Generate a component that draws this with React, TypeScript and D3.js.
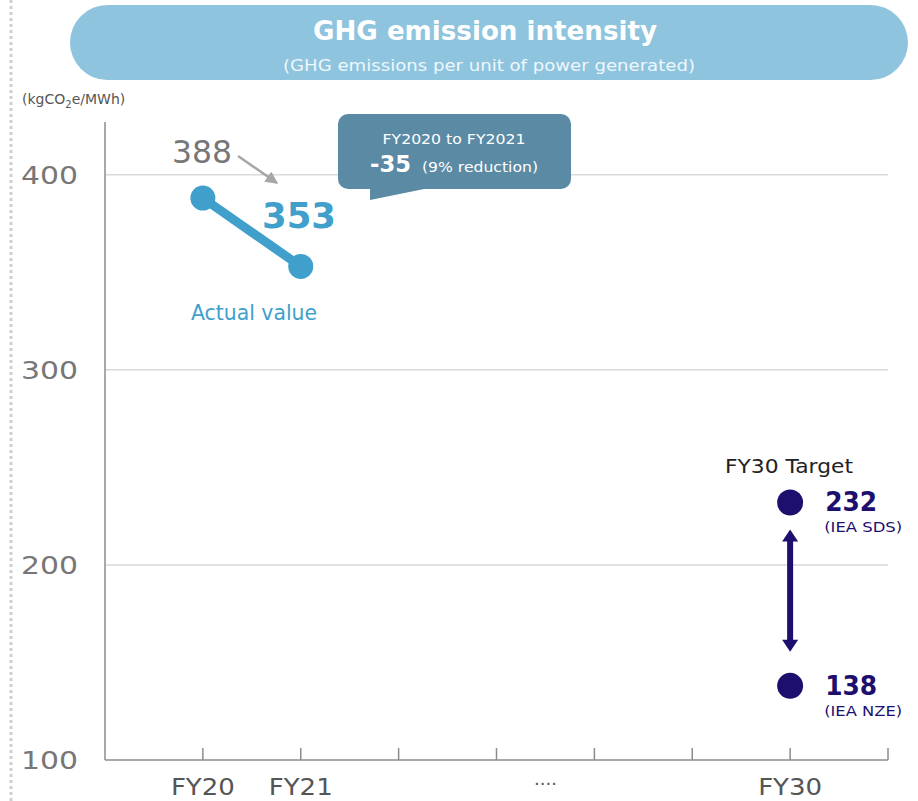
import React from "react";
import * as d3 from "d3";

const slots = ["s0", "FY20", "FY21", "s3", "s4", "s5", "s6", "FY30", "s8"];
const xLabels = ["FY20", "FY21", "FY30"];
const gapLabel = "····";
const actualYears = ["FY20", "FY21"];
const actualValues = [388, 353];
const targetYear = "FY30";
const targetValues = [232, 138];
const targetNotes = ["(IEA SDS)", "(IEA NZE)"];
const yTicks = [100, 200, 300, 400];
const changeValue = -35;
const changePct = "9% reduction";

const W = 918;
const H = 801;
const FONT = "'DejaVu Sans', Verdana, sans-serif";
const BLUE = "#409fcb";
const NAVY = "#1c0f6e";
const CALLOUT = "#5a8aa4";
const PILL = "#8fc4df";

export default function App() {
  const x = d3.scalePoint<string>().domain(slots).range([105, 888]).padding(0);
  const y = d3.scaleLinear().domain([100, 427]).range([760, 122]);
  const line = d3
    .line<number>()
    .x((_, i) => x(actualYears[i]) as number)
    .y((d) => y(d));
  const step = x.step();
  const gapX = (x("s4") as number) + step / 2;
  const tx = x(targetYear) as number;
  const yTop = y(targetValues[0]);
  const yBot = y(targetValues[1]);
  const a1 = yTop + 27;
  const a2 = yBot - 34;

  return (
    <svg width={W} height={H} style={{ position: "absolute", left: 0, top: 0, background: "#fff" }} fontFamily={FONT}>
      <defs>
        <marker id="garrow" viewBox="0 0 10 10" refX="9" refY="5" markerWidth="5" markerHeight="5" orient="auto">
          <path d="M0,0 L10,5 L0,10 z" fill="#a6a6a6" />
        </marker>
      </defs>
      {/* left dotted border */}
      <line x1={11} y1={0} x2={11} y2={H} stroke="#cfcfcf" strokeWidth={3} strokeDasharray="3 3" />

      {/* title pill */}
      <rect x={70} y={5} width={838} height={75} rx={37.5} fill={PILL} />
      <text x={485} y={40} textAnchor="middle" fill="#fff" fontWeight="bold" fontSize={27} textLength={344} lengthAdjust="spacingAndGlyphs">
        GHG emission intensity
      </text>
      <text x={489} y={71} textAnchor="middle" fill="#eef7fc" fontSize={16} textLength={412} lengthAdjust="spacingAndGlyphs">
        (GHG emissions per unit of power generated)
      </text>

      {/* unit */}
      <text x={22} y={104} fill="#555" fontSize={14}>
        (kgCO<tspan fontSize={10} dy={4}>2</tspan><tspan dy={-4}>e/MWh)</tspan>
      </text>

      {/* gridlines */}
      {yTicks.filter((t) => t > 100).map((t) => (
        <line key={t} x1={105} x2={888} y1={y(t)} y2={y(t)} stroke="#d9d9d9" strokeWidth={1.5} />
      ))}
      {/* axes */}
      <line x1={105} x2={105} y1={122} y2={760} stroke="#8c8c8c" strokeWidth={1.5} />
      <line x1={105} x2={888} y1={760} y2={760} stroke="#8c8c8c" strokeWidth={1.5} />
      {slots.slice(1).map((s) => (
        <line key={s} x1={x(s) as number} x2={x(s) as number} y1={748} y2={760} stroke="#8c8c8c" strokeWidth={1.5} />
      ))}
      {yTicks.map((t) => (
        <text key={t} x={78} y={y(t) + 9} textAnchor="end" fill="#777" fontSize={24} textLength={57} lengthAdjust="spacingAndGlyphs">
          {t}
        </text>
      ))}
      {xLabels.map((l) => (
        <text key={l} x={x(l) as number} y={795} textAnchor="middle" fill="#555" fontSize={23} textLength={64} lengthAdjust="spacingAndGlyphs">
          {l}
        </text>
      ))}
      <text x={gapX} y={790} textAnchor="middle" fill="#555" fontSize={18}>
        {gapLabel}
      </text>

      {/* actual line */}
      <path d={line(actualValues) as string} fill="none" stroke={BLUE} strokeWidth={9} />
      {actualValues.map((v, i) => (
        <circle key={i} cx={x(actualYears[i]) as number} cy={y(v)} r={12.5} fill={BLUE} />
      ))}
      <text x={202} y={163} textAnchor="middle" fill="#777" fontSize={32} textLength={60} lengthAdjust="spacingAndGlyphs">
        {actualValues[0]}
      </text>
      <line x1={238} y1={156} x2={277} y2={183} stroke="#a6a6a6" strokeWidth={2.5} markerEnd="url(#garrow)" />
      <text x={299} y={228} textAnchor="middle" fill={BLUE} fontWeight="bold" fontSize={36} textLength={74} lengthAdjust="spacingAndGlyphs">
        {actualValues[1]}
      </text>
      <text x={254} y={320} textAnchor="middle" fill={BLUE} fontSize={21} textLength={126} lengthAdjust="spacingAndGlyphs">
        Actual value
      </text>

      {/* callout */}
      <rect x={338} y={114} width={233} height={75} rx={10} fill={CALLOUT} />
      <path d="M370,187 L434,187 L370,200 Z" fill={CALLOUT} />
      <text x={454} y={144} textAnchor="middle" fill="#fff" fontSize={14.5} textLength={143} lengthAdjust="spacingAndGlyphs">
        FY2020 to FY2021
      </text>
      <text x={370} y={172} fill="#fff" fontWeight="bold" fontSize={23} textLength={41} lengthAdjust="spacingAndGlyphs">
        {changeValue}
      </text>
      <text x={422} y={172} fill="#fff" fontSize={14} textLength={116} lengthAdjust="spacingAndGlyphs">
        ({changePct})
      </text>

      {/* targets */}
      <text x={789} y={473} textAnchor="middle" fill="#222" fontSize={19} textLength={128} lengthAdjust="spacingAndGlyphs">
        FY30 Target
      </text>
      {targetValues.map((v, i) => (
        <g key={v}>
          <circle cx={tx} cy={y(v)} r={13} fill={NAVY} />
          <text x={tx + 35} y={y(v) + 9} fill={NAVY} fontWeight="bold" fontSize={26} textLength={52} lengthAdjust="spacingAndGlyphs">
            {v}
          </text>
          <text x={tx + 34} y={y(v) + 30} fill={NAVY} fontSize={14} textLength={78} lengthAdjust="spacingAndGlyphs">
            {targetNotes[i]}
          </text>
        </g>
      ))}
      <line x1={tx} x2={tx} y1={a1 + 10} y2={a2 - 10} stroke={NAVY} strokeWidth={6} />
      <path d={`M${tx},${a1} L${tx + 8},${a1 + 12} L${tx - 8},${a1 + 12} Z`} fill={NAVY} />
      <path d={`M${tx},${a2} L${tx + 8},${a2 - 12} L${tx - 8},${a2 - 12} Z`} fill={NAVY} />
    </svg>
  );
}
